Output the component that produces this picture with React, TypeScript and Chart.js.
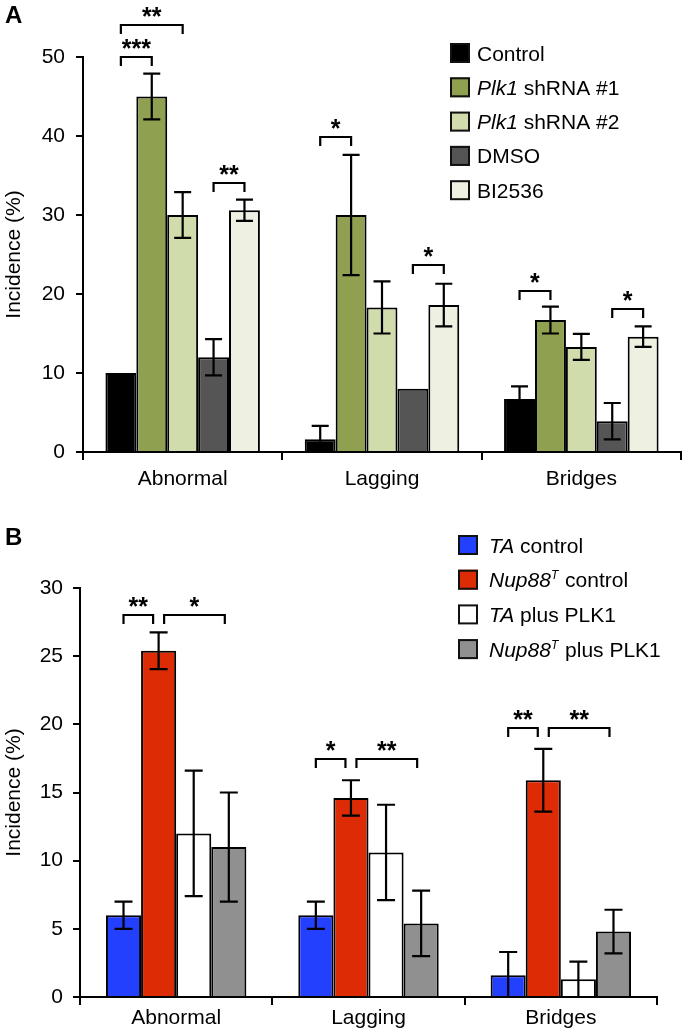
import React, { useEffect, useRef } from 'react';
import { Chart, registerables } from 'chart.js';

Chart.register(...registerables);

const FONT = '"Liberation Sans", Arial, Helvetica, sans-serif';

// ---------------- Panel A data ----------------
const categoriesA = ['Abnormal', 'Lagging', 'Bridges'];
const seriesNamesA = ['Control', '_Plk1_ shRNA #1', '_Plk1_ shRNA #2', 'DMSO', 'BI2536'];
const yTicksA = [0, 10, 20, 30, 40, 50];
const controlA = [10, 1.6, 6.7];
const shrna1A = [45, 30, 16.7];
const shrna2A = [30, 18.3, 13.3];
const dmsoA = [12, 8, 3.9];
const bi2536A = [30.6, 18.6, 14.6];
const controlErrA = [null, 1.7, 1.6];
const shrna1ErrA = [2.9, 7.6, 1.7];
const shrna2ErrA = [2.9, 3.3, 1.65];
const dmsoErrA = [2.3, null, 2.3];
const bi2536ErrA = [1.35, 2.7, 1.3];
// [category, fromSeries, toSeries, yValue, label]
const bracketsA: [number, number, number, number, string][] = [
  [0, 0, 1, 50, '***'],
  [0, 0, 2, 54, '**'],
  [0, 3, 4, 34, '**'],
  [1, 0, 1, 39.9, '*'],
  [1, 3, 4, 23.7, '*'],
  [2, 0, 1, 20.4, '*'],
  [2, 3, 4, 18.1, '*'],
];

// ---------------- Panel B data ----------------
const categoriesB = ['Abnormal', 'Lagging', 'Bridges'];
const seriesNamesB = ['_TA_ control', '_Nup88^T^_ control', '_TA_ plus PLK1', '_Nup88^T^_ plus PLK1'];
const yTicksB = [0, 5, 10, 15, 20, 25, 30];
const taControlB = [6, 6, 1.6];
const nupControlB = [25.4, 14.6, 15.9];
const taPlk1B = [12, 10.6, 1.3];
const nupPlk1B = [11, 5.4, 4.8];
const taControlErrB = [1, 1, 1.7];
const nupControlErrB = [1.35, 1.3, 2.3];
const taPlk1ErrB = [4.6, 3.5, 1.3];
const nupPlk1ErrB = [4, 2.4, 1.6];
const bracketsB: [number, number, number, number, string][] = [
  [0, 0, 1, 28.0, '**'],
  [0, 1, 3, 28.0, '*'],
  [1, 0, 1, 17.45, '*'],
  [1, 1, 3, 17.45, '**'],
  [2, 0, 1, 19.7, '**'],
  [2, 1, 3, 19.7, '**'],
];

const plain = (s: string) => s.replace(/[_^]/g, '');

function drawRich(ctx: CanvasRenderingContext2D, markup: string, x: number, y: number, size: number) {
  let italic = false;
  let sup = false;
  let buf = '';
  let cx = x;
  const flush = () => {
    if (!buf) return;
    const fs = sup ? Math.round(size * 0.55) : size;
    ctx.font = `${italic ? 'italic ' : ''}${fs}px ${FONT}`;
    ctx.textBaseline = 'alphabetic';
    ctx.fillText(buf, cx, sup ? y - size * 0.38 : y);
    cx += ctx.measureText(buf).width + (sup ? 1 : 0);
    buf = '';
  };
  for (const ch of markup) {
    if (ch === '_') { flush(); italic = !italic; }
    else if (ch === '^') { flush(); sup = !sup; }
    else buf += ch;
  }
  flush();
}

interface PanelSpec {
  letter: string;
  letterY: number;
  categories: string[];
  names: string[];
  values: number[][];
  errors: (number | null)[][];
  colors: string[];
  brackets: [number, number, number, number, string][];
  yTicks: number[];
  width: number;
  height: number;
  padTop: number;
  padRight: number;
  yAxisWidth: number;
  xAxisHeight: number;
  catPct: number;
  tickPadX: number;
  tickPadY: number;
  capW: number;
  legendX: number;
  legendTextX: number;
  legendY0: number;
  legendDy: number;
  sharedInset: number;
  rightInset: number;
}

function makeConfig(p: PanelSpec): any {
  const errorBars = {
    id: 'errorBars',
    afterDatasetsDraw(chart: any) {
      const ctx = chart.ctx;
      const ys = chart.scales.y;
      ctx.save();
      ctx.strokeStyle = '#000';
      ctx.lineWidth = 2.2;
      p.errors.forEach((errs, i) => {
        const meta = chart.getDatasetMeta(i);
        errs.forEach((e, j) => {
          if (e == null) return;
          const v = p.values[i][j];
          const x = meta.data[j].x;
          const top = ys.getPixelForValue(v + e);
          const lowV = Math.max(0, v - e);
          const bot = ys.getPixelForValue(lowV);
          const hw = p.capW / 2;
          ctx.beginPath();
          ctx.moveTo(x, top);
          ctx.lineTo(x, bot);
          ctx.moveTo(x - hw, top);
          ctx.lineTo(x + hw, top);
          if (lowV > 0) {
            ctx.moveTo(x - hw, bot);
            ctx.lineTo(x + hw, bot);
          }
          ctx.stroke();
        });
      });
      ctx.restore();
    },
  };

  const brackets = {
    id: 'brackets',
    afterDraw(chart: any) {
      const ctx = chart.ctx;
      const ys = chart.scales.y;
      ctx.save();
      ctx.strokeStyle = '#000';
      ctx.fillStyle = '#000';
      ctx.lineWidth = 2.2;
      const isShared = (cat: number, s: number) =>
        p.brackets.some((q) => q[0] === cat && q[2] === s) && p.brackets.some((q) => q[0] === cat && q[1] === s);
      p.brackets.forEach(([cat, a, b, v, label]) => {
        let x1 = chart.getDatasetMeta(a).data[cat].x;
        let x2 = chart.getDatasetMeta(b).data[cat].x;
        x1 += isShared(cat, a) ? p.sharedInset : 0;
        x2 -= isShared(cat, b) ? p.sharedInset : p.rightInset;
        const yy = Math.round(ys.getPixelForValue(v));
        ctx.beginPath();
        ctx.moveTo(x1, yy + 9);
        ctx.lineTo(x1, yy);
        ctx.lineTo(x2, yy);
        ctx.lineTo(x2, yy + 9);
        ctx.stroke();
        ctx.font = `bold 25px ${FONT}`;
        ctx.textAlign = 'center';
        ctx.textBaseline = 'alphabetic';
        const m = ctx.measureText(label);
        const cy = yy - 13.5;
        const by = cy + (m.actualBoundingBoxAscent - m.actualBoundingBoxDescent) / 2;
        ctx.fillText(label, (x1 + x2) / 2, by);
      });
      ctx.restore();
    },
  };

  const legendAndLetter = {
    id: 'legendAndLetter',
    afterDraw(chart: any) {
      const ctx = chart.ctx;
      ctx.save();
      ctx.fillStyle = '#000';
      ctx.font = `bold 24px ${FONT}`;
      ctx.textAlign = 'left';
      ctx.textBaseline = 'alphabetic';
      ctx.fillText(p.letter, 5, p.letterY);
      p.names.forEach((name, i) => {
        const cy = p.legendY0 + i * p.legendDy;
        ctx.fillStyle = p.colors[i];
        ctx.fillRect(p.legendX, cy - 10, 20, 20);
        ctx.strokeStyle = '#111';
        ctx.lineWidth = 2;
        ctx.strokeRect(p.legendX + 1, cy - 9, 18, 18);
        ctx.fillStyle = '#000';
        ctx.textAlign = 'left';
        drawRich(ctx, name, p.legendTextX, cy + 7.5, 21);
      });
      ctx.restore();
    },
  };

  return {
    type: 'bar',
    data: {
      labels: p.categories,
      datasets: p.values.map((vals, i) => ({
        label: plain(p.names[i]),
        data: vals,
        backgroundColor: p.colors[i],
        borderColor: '#000',
        borderWidth: 2,
        borderSkipped: 'start',
        categoryPercentage: p.catPct,
        barPercentage: 1,
      })),
    },
    options: {
      responsive: false,
      animation: false,
      devicePixelRatio: 1,
      layout: { padding: { top: p.padTop, right: p.padRight, left: 0, bottom: 0 } },
      plugins: { legend: { display: false }, tooltip: { enabled: false }, title: { display: false } },
      scales: {
        x: {
          type: 'category',
          offset: true,
          grid: { display: true, drawOnChartArea: false, drawTicks: true, tickLength: 8, color: '#000', lineWidth: 2, offset: true },
          border: { display: true, color: '#000', width: 2 },
          ticks: { color: '#000', font: { size: 21, family: FONT }, padding: p.tickPadX, maxRotation: 0 },
          afterFit: (s: any) => { s.height = p.xAxisHeight; },
        },
        y: {
          min: p.yTicks[0],
          max: p.yTicks[p.yTicks.length - 1],
          grid: { display: true, drawOnChartArea: false, drawTicks: true, tickLength: 7, color: '#000', lineWidth: 2 },
          border: { display: true, color: '#000', width: 2 },
          ticks: { color: '#000', font: { size: 21, family: FONT }, padding: p.tickPadY },
          afterBuildTicks: (s: any) => { s.ticks = p.yTicks.map((v) => ({ value: v })); },
          title: { display: true, text: 'Incidence (%)', color: '#000', font: { size: 21, family: FONT }, padding: { top: 2, bottom: 0 } },
          afterFit: (s: any) => { s.width = p.yAxisWidth; },
        },
      },
    },
    plugins: [errorBars, brackets, legendAndLetter],
  };
}

const panelA: PanelSpec = {
  letter: 'A',
  letterY: 23,
  categories: categoriesA,
  names: seriesNamesA,
  values: [controlA, shrna1A, shrna2A, dmsoA, bi2536A],
  errors: [controlErrA, shrna1ErrA, shrna2ErrA, dmsoErrA, bi2536ErrA],
  colors: ['#000000', '#8fa050', '#d1dcad', '#555555', '#eef0e2'],
  brackets: bracketsA,
  yTicks: yTicksA,
  width: 686,
  height: 490,
  padTop: 57,
  padRight: 5,
  yAxisWidth: 83,
  xAxisHeight: 38,
  catPct: 0.775,
  tickPadX: 7,
  tickPadY: 11,
  capW: 17,
  legendX: 450,
  legendTextX: 477,
  legendY0: 53,
  legendDy: 34.3,
  sharedInset: 0,
  rightInset: 0,
};

const panelB: PanelSpec = {
  letter: 'B',
  letterY: 55,
  categories: categoriesB,
  names: seriesNamesB,
  values: [taControlB, nupControlB, taPlk1B, nupPlk1B],
  errors: [taControlErrB, nupControlErrB, taPlk1ErrB, nupPlk1ErrB],
  colors: ['#2340ff', '#dd2c05', '#ffffff', '#909090'],
  brackets: bracketsB,
  yTicks: yTicksB,
  width: 686,
  height: 541,
  padTop: 98,
  padRight: 29,
  yAxisWidth: 80,
  xAxisHeight: 34,
  catPct: 0.73,
  tickPadX: 1,
  tickPadY: 10,
  capW: 18,
  legendX: 458,
  legendTextX: 489,
  legendY0: 55,
  legendDy: 34.7,
  sharedInset: 5.5,
  rightInset: 4,
};

function Panel({ spec, top }: { spec: PanelSpec; top: number }) {
  const ref = useRef<HTMLCanvasElement | null>(null);
  useEffect(() => {
    if (!ref.current) return;
    const chart = new Chart(ref.current, makeConfig(spec));
    return () => chart.destroy();
  }, [spec]);
  return (
    <canvas
      ref={ref}
      width={spec.width}
      height={spec.height}
      style={{ position: 'absolute', left: 0, top, width: spec.width, height: spec.height, display: 'block' }}
    />
  );
}

export default function App() {
  return (
    <div style={{ position: 'fixed', left: 0, top: 0, width: 686, height: 1031, background: '#fff', overflow: 'hidden' }}>
      <Panel spec={panelA} top={0} />
      <Panel spec={panelB} top={490} />
    </div>
  );
}
